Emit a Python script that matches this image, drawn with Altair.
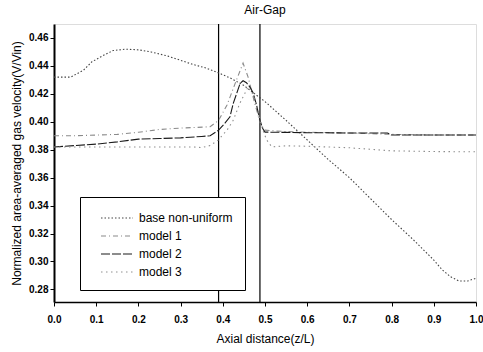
import altair as alt
import pandas as pd

series_names = ["base non-uniform", "model 1", "model 2", "model 3"]

base_z = [0, 0.04, 0.07, 0.09, 0.12, 0.14, 0.17, 0.20, 0.23, 0.27, 0.30, 0.33, 0.36, 0.39,
          0.42, 0.45, 0.48, 0.50, 0.55, 0.60, 0.65, 0.70, 0.75, 0.80, 0.85, 0.90, 0.92,
          0.94, 0.96, 0.98, 1.0]
base_v = [0.432, 0.432, 0.437, 0.443, 0.448, 0.451, 0.452, 0.4515, 0.450, 0.447, 0.444,
          0.441, 0.4385, 0.435, 0.431, 0.426, 0.419, 0.4145, 0.401, 0.387, 0.373, 0.360,
          0.345, 0.330, 0.316, 0.301, 0.294, 0.289, 0.286, 0.286, 0.288]

m1_z = [0, 0.05, 0.10, 0.15, 0.20, 0.25, 0.30, 0.34, 0.37, 0.39, 0.41, 0.43, 0.448, 0.46,
        0.475, 0.49, 0.50, 0.55, 0.60, 0.70, 0.80, 0.90, 1.0]
m1_v = [0.390, 0.390, 0.3905, 0.391, 0.3925, 0.3945, 0.3955, 0.396, 0.3965, 0.401, 0.412,
        0.428, 0.442, 0.432, 0.414, 0.398, 0.394, 0.393, 0.3925, 0.392, 0.391, 0.3905, 0.3905]

m2_z = [0, 0.05, 0.10, 0.15, 0.20, 0.25, 0.30, 0.35, 0.37, 0.39, 0.405, 0.417, 0.425, 0.433,
        0.441, 0.448, 0.456, 0.465, 0.472, 0.48, 0.488, 0.495, 0.50, 0.55, 0.60, 0.70, 0.79,
        0.80, 0.90, 1.0]
m2_v = [0.382, 0.383, 0.384, 0.3856, 0.3876, 0.388, 0.3885, 0.3895, 0.390, 0.394, 0.399,
        0.4036, 0.4134, 0.4204, 0.4275, 0.4294, 0.428, 0.4245, 0.4206, 0.412, 0.401, 0.395,
        0.3926, 0.3924, 0.3922, 0.392, 0.392, 0.3905, 0.3905, 0.3905]

m3_z = [0, 0.05, 0.08, 0.15, 0.25, 0.33, 0.35, 0.37, 0.389, 0.41, 0.425, 0.44, 0.46, 0.472,
        0.484, 0.495, 0.504, 0.516, 0.55, 0.60, 0.70, 0.80, 0.90, 1.0]
m3_v = [0.382, 0.382, 0.382, 0.382, 0.382, 0.382, 0.3815, 0.383, 0.3869, 0.394, 0.4012,
        0.413, 0.425, 0.420, 0.406, 0.394, 0.387, 0.382, 0.3828, 0.3825, 0.3814, 0.3792,
        0.3787, 0.3785]

airgap_edges = [0.39, 0.488]

x_ticks = [round(i * 0.1, 1) for i in range(11)]
y_ticks = [0.28, 0.30, 0.32, 0.34, 0.36, 0.38, 0.40, 0.42, 0.44, 0.46]

series_colors = ["#444444", "#8a8a8a", "#1a1a1a", "#8f8f8f"]
series_dashes = [[1.5, 2], [5, 3, 1, 3], [9, 2], [1.5, 3.5]]

frames = []
for name, zs, vs in [(series_names[0], base_z, base_v), (series_names[1], m1_z, m1_v),
                     (series_names[2], m2_z, m2_v), (series_names[3], m3_z, m3_v)]:
    frames.append(pd.DataFrame({"z": zs, "v": vs, "series": name, "order": range(len(zs))}))
df = pd.concat(frames, ignore_index=True)

font = "Liberation Sans"

x_scale = alt.Scale(domain=[0, 1], nice=False, zero=False)
y_scale = alt.Scale(domain=[0.271, 0.470], nice=False, zero=False)

lines = alt.Chart(df).mark_line(strokeWidth=1.1, clip=True).encode(
    x=alt.X("z:Q", scale=x_scale,
            axis=alt.Axis(title="Axial distance(z/L)", values=x_ticks, format=".1f",
                          grid=False, tickSize=4, labelPadding=8, titlePadding=9,
                          labelFontSize=10, titleFontSize=12, labelFontWeight="bold",
                          titleFontWeight="normal", domainWidth=1.5, labelFlush=False,
                          domainColor="black", tickColor="black", labelColor="black",
                          titleColor="black", labelFont=font, titleFont=font)),
    y=alt.Y("v:Q", scale=y_scale,
            axis=alt.Axis(title="Normalized area-averaged gas velocity(V/Vin)", values=y_ticks,
                          format=".2f", grid=False, tickSize=4, labelPadding=2,
                          titlePadding=5, labelFontSize=10, titleFontSize=12,
                          labelFontWeight="bold", titleFontWeight="normal", domainWidth=2,
                          labelFlush=False,
                          domainColor="black", tickColor="black", labelColor="black",
                          titleColor="black", labelFont=font, titleFont=font)),
    color=alt.Color("series:N", scale=alt.Scale(domain=series_names, range=series_colors),
                    legend=alt.Legend(title=None, orient="none", legendX=26, legendY=173,
                                      strokeColor="black", fillColor="white",
                                      padding=12,
                                      symbolType="M0,0H4", symbolSize=256,
                                      symbolStrokeWidth=1.2, labelFontSize=12,
                                      labelFont=font, labelColor="black", rowPadding=3,
                                      labelOffset=29,
                                      labelExpr="datum.label == 'base non-uniform' ? datum.label + '\u00a0\u00a0\u00a0\u00a0\u00a0\u00a0\u00a0\u00a0' : datum.label")),
    strokeDash=alt.StrokeDash("series:N",
                              scale=alt.Scale(domain=series_names, range=series_dashes),
                              legend=None),
    order="order:Q",
)

rules = alt.Chart(pd.DataFrame({"edge": airgap_edges})).mark_rule(
    color="black", strokeWidth=1.2).encode(x=alt.X("edge:Q", scale=x_scale))

chart = alt.layer(rules, lines).properties(
    width=422, height=278,
    title=alt.TitleParams("Air-Gap", fontSize=12, font=font, fontWeight="normal",
                          color="black", offset=6),
    autosize=alt.AutoSizeParams(type="none"),
    padding={"left": 54, "top": 24, "right": 7, "bottom": 50},
).configure_view(stroke="#333333", strokeWidth=1).configure(background="white")

chart.save("out.html", embed_options={"renderer": "svg", "actions": False})
